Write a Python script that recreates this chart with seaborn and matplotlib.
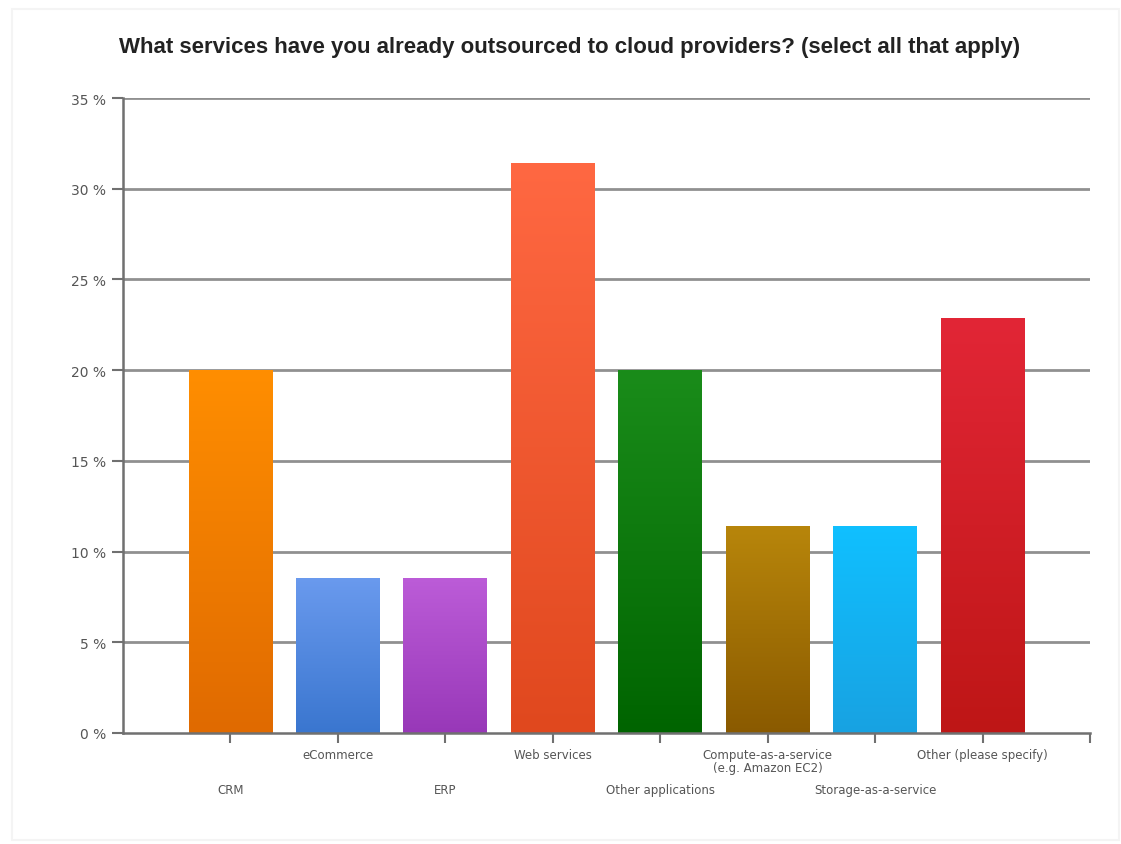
import matplotlib
matplotlib.use("Agg")
import matplotlib.pyplot as plt
import matplotlib.colors as mcolors
import numpy as np
import pandas as pd
import seaborn as sns

categories = ["CRM", "eCommerce", "ERP", "Web services", "Other applications",
              "Compute-as-a-service\n(e.g. Amazon EC2)", "Storage-as-a-service",
              "Other (please specify)"]
values = [20.0, 8.57, 8.57, 31.43, 20.0, 11.43, 11.43, 22.86]
top_colors = ["#FF8E00", "#6A9AEE", "#BC5CD8", "#FF6842", "#1A8C1A",
              "#B8860B", "#10C0FF", "#E22636"]
bottom_colors = ["#E06A00", "#3A76CF", "#9838B8", "#E0481E", "#006400",
                 "#8A5A00", "#18A2E2", "#BE1616"]
y_ticks = [0, 5, 10, 15, 20, 25, 30, 35]
y_ticklabels = [f"{t} %" for t in y_ticks]
title = "What services have you already outsourced to cloud providers? (select all that apply)"

sns.set_theme(style="white")
plt.rcParams['font.family'] = ['DejaVu Sans']

fig = plt.figure(figsize=(11.21, 8.45), dpi=100)
ax = fig.add_axes([123/1121, 1 - 734/845, (1090-123)/1121, (734-99)/845])

df = pd.DataFrame({"cat": categories, "val": values})
sns.barplot(data=df, x="cat", y="val", hue="cat", palette=top_colors,
            legend=False, width=0.78, ax=ax, saturation=1, zorder=3)

# gradient fill
for patch, ct, cb in zip(ax.patches, top_colors, bottom_colors):
    x0, y0 = patch.get_x(), patch.get_y()
    w, h = patch.get_width(), patch.get_height()
    c1 = np.array(mcolors.to_rgb(ct))
    c2 = np.array(mcolors.to_rgb(cb))
    t = np.linspace(0, 1, 256)[:, None]
    grad = (c1 * (1 - t) + c2 * t)[:, None, :]
    im = ax.imshow(grad, extent=[x0, x0 + w, y0, y0 + h], origin="upper",
                   aspect="auto", zorder=4)
    im.set_clip_path(patch)
    patch.set_edgecolor("none")

ax.set_xlim(-1.0, 8.0)
ax.set_ylim(0, 35)
ax.set_yticks(y_ticks)
ax.set_yticklabels(y_ticklabels, fontsize=10, color="#555555")
ax.set_xticks(list(range(len(categories))) + [8.0])
ax.set_xticklabels([""] * (len(categories) + 1))
ax.set_xlabel("")
ax.set_ylabel("")

for y in y_ticks[1:]:
    ax.axhline(y, color="#909090", lw=2, zorder=1)

for s in ["top", "right"]:
    ax.spines[s].set_visible(False)
for s in ["left", "bottom"]:
    ax.spines[s].set_color("#707070")
    ax.spines[s].set_linewidth(1.8)
    ax.spines[s].set_zorder(5)
ax.tick_params(axis="y", length=8, width=1.5, color="#707070", pad=4, left=True)
ax.tick_params(axis="x", length=7, width=1.5, color="#707070", bottom=True, direction="out")
ax.grid(False)

# staggered category labels
trans = matplotlib.transforms.blended_transform_factory(ax.transData, ax.transAxes)
for i, lab in enumerate(categories):
    if i % 2 == 1:
        yoff = -15 / 635
    else:
        yoff = -50 / 635
    ax.text(i, yoff, lab, transform=trans, ha="center", va="top",
            fontsize=8.5, color="#555555", linespacing=1.0)

fig.text(570/1121, 1 - 47/845, title, ha="center", va="center",
         fontsize=16, fontweight="bold", color="#222222",
         family=["Liberation Sans", "DejaVu Sans"])

# faint outer frame
fig.patches.append(matplotlib.patches.Rectangle((12/1121, 0.005), 1 - 14/1121, 1 - 10/845 - 0.005,
                   transform=fig.transFigure, fill=False, edgecolor="#f4f4f4", lw=1.5))

fig.savefig("out.png", dpi=100)
